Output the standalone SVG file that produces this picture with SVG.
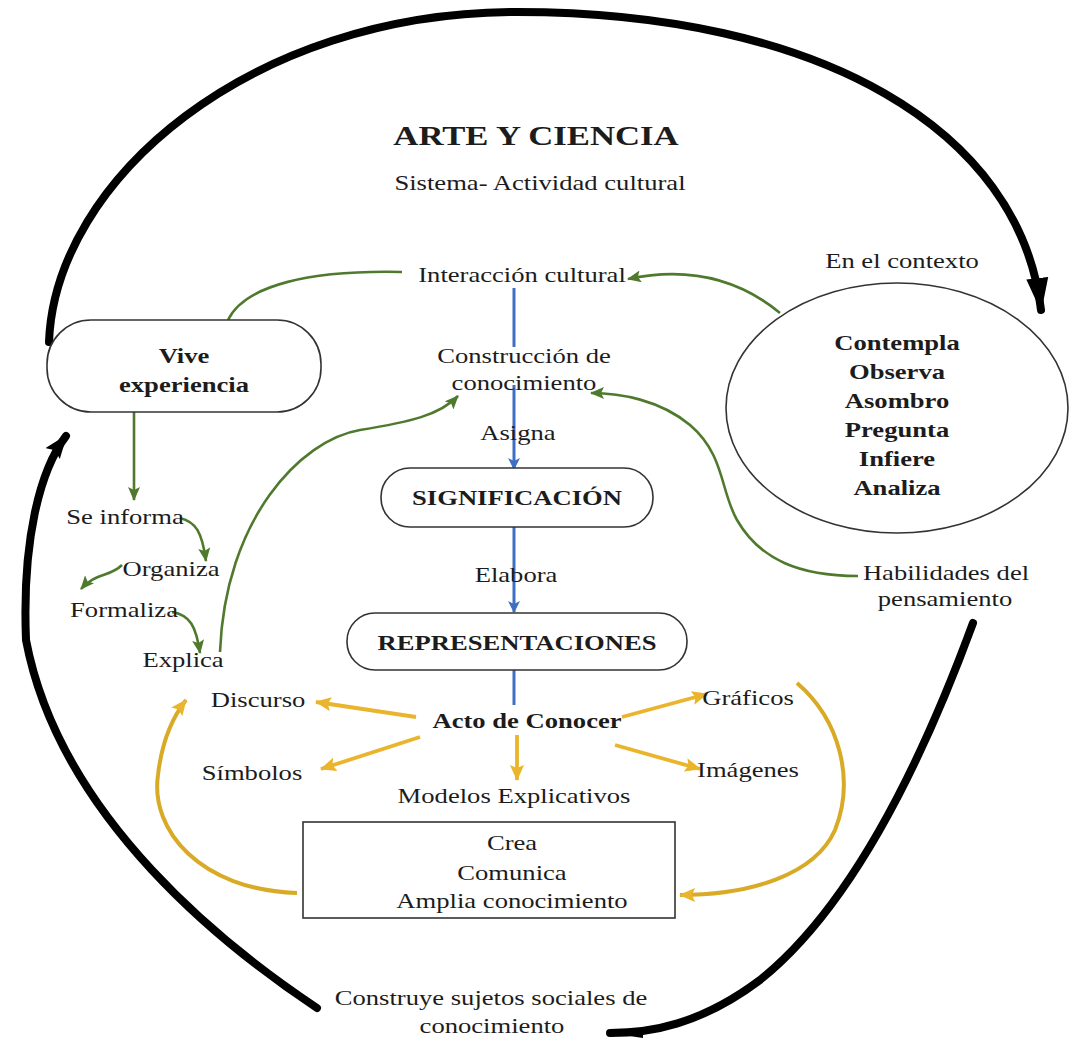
<svg xmlns="http://www.w3.org/2000/svg" width="1087" height="1048" viewBox="0 0 1087 1048">
<style>
text{font-family:"Liberation Serif","Times New Roman",serif;fill:#1c1c1c;text-anchor:middle;font-size:22px}
.b{font-weight:bold}
.t{font-size:28px;font-weight:bold}
.box{fill:#fff;stroke:#333;stroke-width:1.6}
.blk{fill:none;stroke:#000;stroke-width:8;stroke-linecap:round}
.grn{fill:none;stroke:#4f7a2e;stroke-width:2.6}
.blu{fill:none;stroke:#3f6fc2;stroke-width:3}
.yel{fill:none;stroke:#eab52c;stroke-width:3.8}
.yel2{fill:none;stroke:#d8aa25;stroke-width:4}
</style>
<defs>
<marker id="mk" markerUnits="userSpaceOnUse" markerWidth="34" markerHeight="24" refX="32" refY="12" orient="auto"><path d="M0,1 L34,12 L0,23 Z" fill="#000"/></marker>
<marker id="mk2" markerUnits="userSpaceOnUse" markerWidth="24" markerHeight="18" refX="22" refY="9" orient="auto"><path d="M0,0 L24,9 L0,18 L4,9 Z" fill="#000"/></marker>
<marker id="mk3" markerUnits="userSpaceOnUse" markerWidth="34" markerHeight="10" refX="33" refY="5" orient="auto"><path d="M0,0 L34,5 L0,10 Z" fill="#000"/></marker>
<marker id="mg" markerUnits="userSpaceOnUse" markerWidth="14" markerHeight="12" refX="13" refY="6" orient="auto"><path d="M0,0 L14,6 L0,12 L3,6 Z" fill="#4f7a2e"/></marker>
<marker id="mb" markerUnits="userSpaceOnUse" markerWidth="12" markerHeight="12" refX="11" refY="6" orient="auto"><path d="M0,0 L12,6 L0,12 L3,6 Z" fill="#3f6fc2"/></marker>
<marker id="my" markerUnits="userSpaceOnUse" markerWidth="16" markerHeight="14" refX="15" refY="7" orient="auto"><path d="M0,0 L16,7 L0,14 L3,7 Z" fill="#eab52c"/></marker>
</defs>
<rect width="1087" height="1048" fill="#fff"/>

<g id="connectors">
<path class="blk" d="M49,342 C55,180 250,12 517,12 C820,12 1020,130 1041,310" marker-end="url(#mk)"/>
<path class="blk" d="M317,1008 C230,950 60,820 26,640 C22,540 40,470 66,436" marker-end="url(#mk2)"/>
<path class="blk" d="M973,623 C930,740 860,900 760,980 C700,1025 650,1033 610,1033" stroke-width="6" marker-end="url(#mk3)"/>

<line class="blu" x1="514" y1="288" x2="514" y2="347"/>
<line class="blu" x1="514" y1="385" x2="514" y2="469" marker-end="url(#mb)"/>
<line class="blu" x1="514" y1="527" x2="514" y2="612" marker-end="url(#mb)"/>
<line class="blu" x1="514" y1="670" x2="514" y2="705"/>

<path class="grn" d="M402,272 C310,270 245,285 228,320"/>
<path class="grn" d="M780,313 C740,280 690,266 628,279" marker-end="url(#mg)"/>
<line class="grn" x1="134" y1="412" x2="134" y2="500" stroke-width="3" marker-end="url(#mg)"/>
<path class="grn" d="M180,518 C196,522 202,532 206,561" stroke-width="3" marker-end="url(#mg)"/>
<path class="grn" d="M122,565 C110,577 95,573 81,589" stroke-width="3" marker-end="url(#mg)"/>
<path class="grn" d="M172,612 C190,615 196,626 200,653" stroke-width="3" marker-end="url(#mg)"/>
<path class="grn" d="M220,652 C225,520 300,440 360,430 C410,422 440,415 458,396" marker-end="url(#mg)"/>
<path class="grn" d="M858,576 C800,576 760,560 737,520 C720,490 725,455 690,425 C660,400 620,393 591,393" marker-end="url(#mg)"/>

<line class="yel" x1="416" y1="717" x2="316" y2="702" marker-end="url(#my)"/>
<line class="yel" x1="622" y1="717" x2="707" y2="694" marker-end="url(#my)"/>
<line class="yel" x1="420" y1="737" x2="321" y2="769" marker-end="url(#my)"/>
<line class="yel" x1="615" y1="745" x2="700" y2="769" marker-end="url(#my)"/>
<line class="yel" x1="517" y1="735" x2="517" y2="780" marker-end="url(#my)"/>
<path class="yel2" d="M297,893 C200,890 150,830 158,775 C162,740 172,718 186,700" marker-end="url(#my)"/>
<path class="yel2" d="M797,683 C840,720 855,780 835,830 C815,875 750,895 680,895" marker-end="url(#my)"/>
</g>

<g id="title">
<text class="t" transform="translate(536,145) scale(1.24,1)">ARTE Y CIENCIA</text>
<text transform="translate(540,190) scale(1.21,1)">Sistema- Actividad cultural</text>
</g>

<g id="vive">
<rect class="box" x="47" y="320" width="274" height="92" rx="44"/>
<text class="b" transform="translate(184,363) scale(1.21,1)">Vive</text>
<text class="b" transform="translate(184,392) scale(1.21,1)">experiencia</text>
</g>

<g id="contexto">
<text transform="translate(902,268) scale(1.21,1)">En el contexto</text>
<ellipse class="box" cx="897" cy="408" rx="171" ry="125"/>
<text class="b" transform="translate(897,350) scale(1.21,1)">Contempla</text>
<text class="b" transform="translate(897,379) scale(1.21,1)">Observa</text>
<text class="b" transform="translate(897,408) scale(1.21,1)">Asombro</text>
<text class="b" transform="translate(897,437) scale(1.21,1)">Pregunta</text>
<text class="b" transform="translate(897,466) scale(1.21,1)">Infiere</text>
<text class="b" transform="translate(897,495) scale(1.21,1)">Analiza</text>
</g>

<g id="interaccion"><text transform="translate(522,282) scale(1.21,1)">Interacción cultural</text></g>
<g id="construccion">
<text transform="translate(524,363) scale(1.21,1)">Construcción de</text>
<text transform="translate(524,390) scale(1.21,1)">conocimiento</text>
</g>
<g id="asigna"><text transform="translate(518,440) scale(1.21,1)">Asigna</text></g>

<g id="significacion">
<rect class="box" x="381" y="468" width="272" height="59" rx="29"/>
<text class="b" transform="translate(517,505) scale(1.21,1)">SIGNIFICACIÓN</text>
</g>
<g id="elabora"><text transform="translate(516,582) scale(1.21,1)">Elabora</text></g>
<g id="representaciones">
<rect class="box" x="347" y="613" width="340" height="57" rx="28"/>
<text class="b" transform="translate(517,650) scale(1.21,1)">REPRESENTACIONES</text>
</g>

<g id="habilidades">
<text transform="translate(946,580) scale(1.21,1)">Habilidades del</text>
<text transform="translate(945,606) scale(1.21,1)">pensamiento</text>
</g>

<g id="se-informa"><text transform="translate(125,524) scale(1.21,1)">Se informa</text></g>
<g id="organiza"><text transform="translate(171,576) scale(1.21,1)">Organiza</text></g>
<g id="formaliza"><text transform="translate(124,617) scale(1.21,1)">Formaliza</text></g>
<g id="explica"><text transform="translate(183,667) scale(1.21,1)">Explica</text></g>

<g id="acto"><text class="b" transform="translate(527,728) scale(1.21,1)">Acto de Conocer</text></g>
<g id="discurso"><text transform="translate(258,707) scale(1.21,1)">Discurso</text></g>
<g id="simbolos"><text transform="translate(252,780) scale(1.21,1)">Símbolos</text></g>
<g id="graficos"><text transform="translate(748,705) scale(1.21,1)">Gráficos</text></g>
<g id="imagenes"><text transform="translate(748,777) scale(1.21,1)">Imágenes</text></g>
<g id="modelos"><text transform="translate(514,803) scale(1.21,1)">Modelos Explicativos</text></g>

<g id="crea">
<rect class="box" x="303" y="822" width="372" height="96"/>
<text transform="translate(512,850) scale(1.21,1)">Crea</text>
<text transform="translate(512,880) scale(1.21,1)">Comunica</text>
<text transform="translate(512,908) scale(1.21,1)">Amplia conocimiento</text>
</g>

<g id="construye">
<text transform="translate(491,1005) scale(1.21,1)">Construye sujetos sociales de</text>
<text transform="translate(492,1033) scale(1.21,1)">conocimiento</text>
</g>
</svg>
